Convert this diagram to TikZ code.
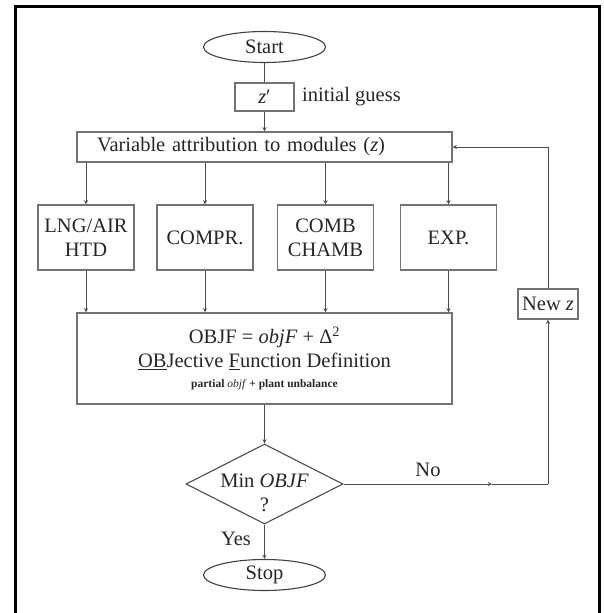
\documentclass[tikz,border=0pt]{standalone}
\usepackage{fontspec}
\setmainfont{Liberation Serif}
\usetikzlibrary{shapes.geometric}

\tikzset{
  box/.style={draw=black!55, line width=1.3pt, inner sep=0pt, align=center, text=black!85},
  modbox/.style={box, minimum width=96pt, minimum height=65pt},
  term/.style={ellipse, draw=black!75, line width=1.1pt, minimum width=122pt, minimum height=31pt, inner sep=0pt, text=black!85},
  flow/.style={draw=black!70, line width=0.9pt},
  arr/.style={flow, -stealth},
  lbl/.style={text=black!85},
}

\begin{document}
\begin{tikzpicture}[x=1pt, y=-1pt, font=\fontsize{20.5}{24}\selectfont]
	\useasboundingbox (0,0) rectangle (604,613);
	% frame
	\draw[line width=3pt] (15,616) -- (15,6) -- (599,6) -- (599,616);

	\node[term] (start) at (264.5,47) {Start};
	\node[box, minimum width=59pt, minimum height=28pt] (zguess) at (264.5,97) {\textit{z}′};
	\node[lbl, anchor=west, inner sep=0pt] (guesstxt) at (302,97) {initial guess};
	\node[box, inner xsep=20pt, text width=335pt, align=left, minimum height=30pt] (attrib) at (264.5,147) {Variable attribution to modules (\textit{z})};

	% modules
	\node[modbox] (lng) at (86,237.5) {LNG/AIR\\HTD};
	\node[modbox] (compr) at (205,237.5) {COMPR.};
	\node[modbox] (comb) at (325.5,237.5) {COMB\\CHAMB};
	\node[modbox] (exp) at (448.5,237.5) {EXP.};

	\node[box, minimum width=375pt, minimum height=91pt] (objf) at (264.5,358.5)
		{OBJF = \textit{objF} + Δ\textsuperscript{2}\\
		 \underline{OB}Jective \underline{F}unction Definition\\[-4pt]
		 {\fontsize{11.5}{13}\selectfont\bfseries partial \textit{\mdseries objf} + plant unbalance}};

	\node[diamond, draw=black!70, line width=1.1pt, minimum width=157pt, minimum height=80pt, inner sep=0pt] (decide) at (264.5,484) {};
	\node[lbl, align=center] (decidetxt) at (264.5,493) {Min \textit{OBJF}\\?};
	\node[term] (stop) at (264.5,575) {Stop};

	\node[box, minimum width=60pt, minimum height=30pt] (newz) at (548,304) {New \textit{z}};
	\coordinate (nomid) at (492,484);
	\coordinate (loopbot) at (548,484);

	% connectors
	\draw[flow] (start) -- (zguess);
	\draw[arr] (zguess) -- (attrib);
	\foreach \m in {lng,compr,comb,exp} {
		\draw[arr] (attrib.south -| \m) -- (\m.north);
		\draw[arr] (\m.south) -- (\m |- objf.north);
	}
	\draw[arr] (objf) -- (decide);
	\draw[arr] (decide) -- (stop);
	\draw[arr] (decide.east) -- (nomid);
	\draw[flow] (nomid) -- (loopbot);
	\draw[arr] (loopbot) -- (newz.south);
	\draw[arr] (newz.north) |- (attrib.east);

	\node[lbl] (yes) at (236,539) {Yes};
	\node[lbl] (no) at (428,470) {No};
\end{tikzpicture}
\end{document}
